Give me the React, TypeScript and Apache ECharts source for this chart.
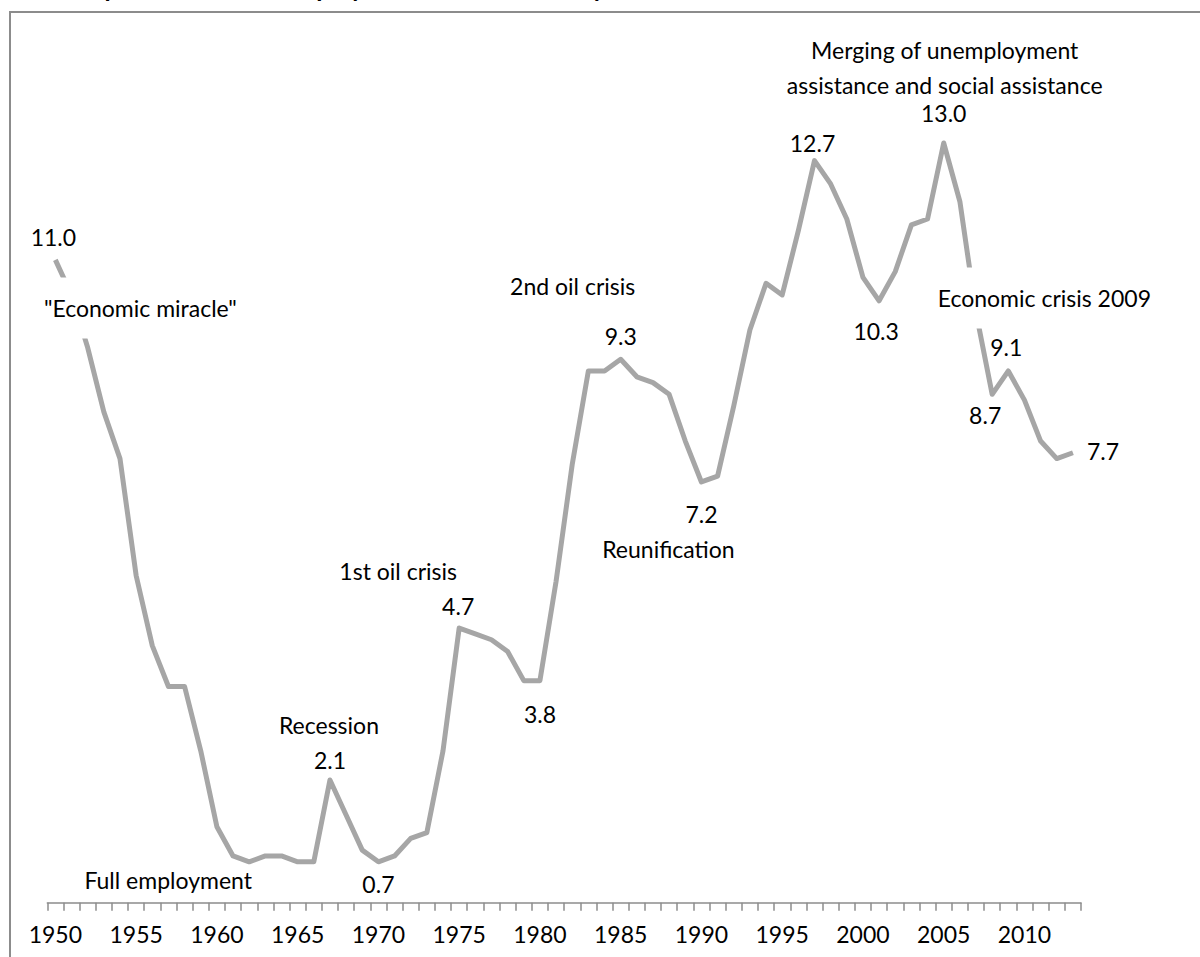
import React, { useEffect, useRef } from "react";
import * as echarts from "echarts";

// ---- data ----
const years = [
  "1950", "1951", "1952", "1953", "1954", "1955", "1956", "1957", "1958", "1959",
  "1960", "1961", "1962", "1963", "1964", "1965", "1966", "1967", "1968", "1969",
  "1970", "1971", "1972", "1973", "1974", "1975", "1976", "1977", "1978", "1979",
  "1980", "1981", "1982", "1983", "1984", "1985", "1986", "1987", "1988", "1989",
  "1990", "1991", "1992", "1993", "1994", "1995", "1996", "1997", "1998", "1999",
  "2000", "2001", "2002", "2003", "2004", "2005", "2006", "2007", "2008", "2009",
  "2010", "2011", "2012", "2013",
];
const rates = [
  11.0, 10.4, 9.5, 8.4, 7.6, 5.6, 4.4, 3.7, 3.7, 2.6,
  1.3, 0.8, 0.7, 0.8, 0.8, 0.7, 0.7, 2.1, 1.5, 0.9,
  0.7, 0.8, 1.1, 1.2, 2.6, 4.7, 4.6, 4.5, 4.3, 3.8,
  3.8, 5.5, 7.5, 9.1, 9.1, 9.3, 9.0, 8.9, 8.7, 7.9,
  7.2, 7.3, 8.5, 9.8, 10.6, 10.4, 11.5, 12.7, 12.3, 11.7,
  10.7, 10.3, 10.8, 11.6, 11.7, 13.0, 12.0, 10.1, 8.7, 9.1,
  8.6, 7.9, 7.6, 7.7,
];
const labeledYears = ["1950", "1967", "1970", "1975", "1980", "1985", "1990", "1997", "2001", "2005", "2008", "2009", "2013"];
const annotationTexts = [
  '"Economic miracle"',
  "Full employment",
  "Recession",
  "1st oil crisis",
  "2nd oil crisis",
  "Reunification",
  "Merging of unemployment\nassistance and social assistance",
  "Economic crisis 2009",
];
const annotationYears = ["1950", "1962", "1967", "1975", "1985", "1990", "2005", "2009"];
const titleText = "Development of the unemployment rate in Germany";

// ---- layout (offsets of labels from their points, px) ----
const valueLabelOffsets = [
  [-2, -23], [0, -20], [0, 22], [-1, -22], [0, 33], [0, -23], [0, 32],
  [-2, -18], [-3, 30], [0, -30], [-7, 21], [-2, -24], [30, -2],
];
const annotationOffsets = [
  [85, 48], [-81, 18], [-1, -55], [-61, -57], [-48, -73], [-33, 67], [1, -76], [36, -73],
];
const annotationBoxed = [true, false, false, false, false, false, false, true];

const FONT = "Lato, 'Open Sans', sans-serif";

export default function App() {
  const ref = useRef<HTMLDivElement>(null);
  useEffect(() => {
    if (!ref.current) return;
    const chart = echarts.init(ref.current, undefined, { renderer: "svg" });

    const valuePoints = labeledYears.map((y, k) => {
      const i = years.indexOf(y);
      return {
        coord: [y, rates[i]],
        value: rates[i],
        label: {
          show: true,
          position: "inside",
          offset: valueLabelOffsets[k],
          formatter: rates[i].toFixed(1),
        },
      };
    });
    const annotationPoints = annotationYears.map((y, k) => {
      const i = years.indexOf(y);
      const boxed = annotationBoxed[k];
      return {
        coord: [y, rates[i]],
        value: rates[i],
        label: {
          show: true,
          position: "inside",
          offset: annotationOffsets[k],
          formatter: annotationTexts[k],
          backgroundColor: boxed ? "#ffffff" : "transparent",
          padding: boxed ? [13, 6] : 0,
        },
      };
    });

    chart.setOption({
      animation: false,
      backgroundColor: "#ffffff",
      grid: { left: 47.3, right: 119, top: 84.6, bottom: 54.3, containLabel: false },
      xAxis: {
        type: "category",
        data: years,
        boundaryGap: true,
        axisLine: { show: true, lineStyle: { color: "#8c8c8c", width: 1.5 } },
        axisTick: { show: true, interval: 0, length: 8, lineStyle: { color: "#8c8c8c", width: 1.5 } },
        axisLabel: { interval: 4, color: "#000", fontFamily: FONT, fontSize: 23, margin: 20 },
        splitLine: { show: false },
      },
      yAxis: { type: "value", min: 0, max: 14, show: false, splitLine: { show: false } },
      graphic: [
        {
          type: "rect",
          shape: { x: 10, y: 12, width: 1400, height: 1100 },
          style: { fill: "none", stroke: "#8c8c8c", lineWidth: 2 },
          silent: true,
        },
        {
          type: "text",
          x: 26,
          y: -1,
          style: {
            text: titleText,
            font: `bold 25px ${FONT}`,
            fill: "#000",
            verticalAlign: "bottom",
          },
          silent: true,
        },
      ],
      series: [
        {
          type: "line",
          data: rates,
          showSymbol: false,
          symbol: "none",
          lineStyle: { color: "#a6a6a6", width: 5, join: "round" },
          markPoint: {
            symbol: "circle",
            symbolSize: 0,
            silent: true,
            itemStyle: { color: "transparent" },
            label: { color: "#000", fontFamily: FONT, fontSize: 23, lineHeight: 35 },
            data: [...valuePoints, ...annotationPoints],
          },
        },
      ],
    });
    return () => chart.dispose();
  }, []);
  return (
    <div
      ref={ref}
      style={{ position: "absolute", left: 0, top: 0, width: 1200, height: 957 }}
    />
  );
}
